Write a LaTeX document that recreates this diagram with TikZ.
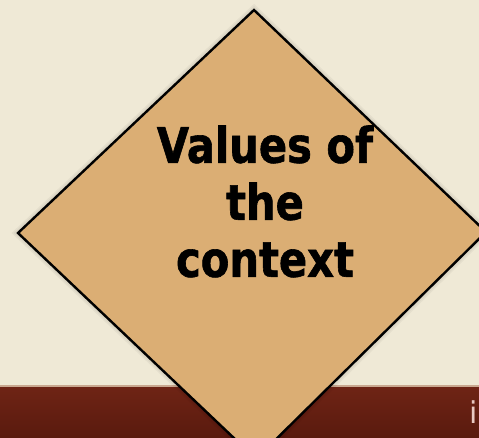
\documentclass[tikz,border=0pt]{standalone}
\usepackage{fontspec}
\newfontfamily\titlefont[FakeStretch=0.85,FakeBold=1.2]{DejaVu Sans}
\newfontfamily\smallfont{DejaVu Sans}
\definecolor{bgcream}{HTML}{EFE9D6}
\definecolor{diafill}{HTML}{DBAE74}
\definecolor{bandtop}{HTML}{6E2415}
\definecolor{bandbot}{HTML}{5A1A0E}
\definecolor{bandline}{HTML}{C9A890}
\definecolor{ipink}{HTML}{E9C9C2}
\tikzset{
  diamondshape/.style={fill=diafill, draw=black, line width=2.4pt, line join=miter},
  shadowlayer/.style={fill=black, draw=black, opacity=0.04},
  titletext/.style={font=\titlefont\bfseries\fontsize{49pt}{57pt}\selectfont, align=center, text=black, inner sep=0pt}
}
\begin{document}
\begin{tikzpicture}[x=1pt,y=-1pt]
\useasboundingbox (0,0) rectangle (479,437);
\fill[bgcream] (0,0) rectangle (479,437);
% bottom band
\fill[bandline] (0,384.5) rectangle (479,387.5);
\shade[top color=bandtop, bottom color=bandbot] (0,387.5) rectangle (479,437);
\node[font=\smallfont\fontsize{30pt}{30pt}\selectfont, text=ipink, inner sep=0pt, anchor=base] (icut) at (474,423) {i};
% diamond corners
\coordinate (dtop) at (254,10);
\coordinate (dleft) at (18,233);
\coordinate (dright) at (486,232);
\coordinate (dbot) at (256,459);
% soft shadow
\foreach \w in {9,6,3}{
  \draw[shadowlayer, line width=\w pt, shift={(2,3)}] (dtop) -- (dright) -- (dbot) -- (dleft) -- cycle;
}
\draw[diamondshape] (dtop) -- (dright) -- (dbot) -- (dleft) -- cycle;
\node[titletext] (label) at (265,201.5) {Values of\\the\\context};
\end{tikzpicture}
\end{document}
